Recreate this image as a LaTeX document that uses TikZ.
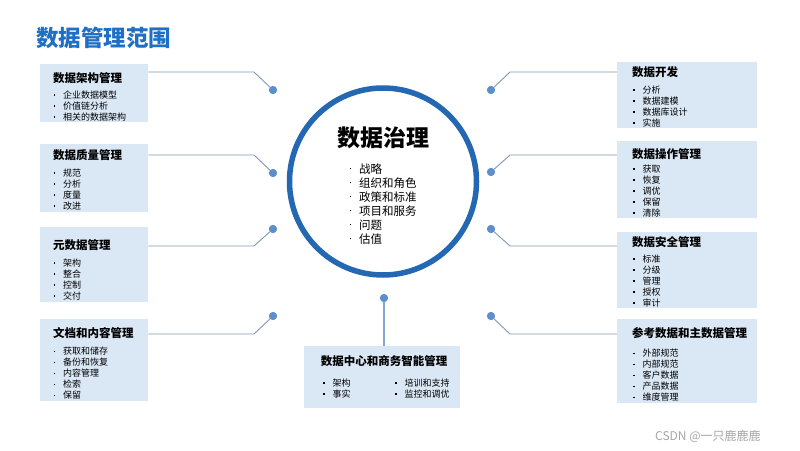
\documentclass[tikz,border=0pt]{standalone}
\usepackage{fontspec}
\setmainfont{Noto Sans CJK SC}
\definecolor{titleblue}{HTML}{1F70C4}
\definecolor{ringblue}{HTML}{2468B4}
\definecolor{boxfill}{HTML}{DAE8F6}
\definecolor{dotblue}{HTML}{5F8FCB}
\definecolor{linegrey}{HTML}{8298B2}
\definecolor{vlineblue}{HTML}{86A6D0}
\newcommand\bl{\makebox[9.5pt][l]{\raisebox{0.32em}{\rule{1.3pt}{1.3pt}}}}
\newcommand\blc{\makebox[9.5pt][l]{\raisebox{0.32em}{\rule{1.5pt}{1.5pt}}}}
\tikzset{
  box/.style={fill=boxfill, draw=none, anchor=north west, inner sep=0pt},
  btitle/.style={anchor=west, inner sep=0pt, font=\fontsize{11.5}{13}\selectfont\bfseries},
  blist/.style={anchor=west, inner sep=0pt, align=left, font=\fontsize{9}{11}\selectfont},
  conn/.style={draw=linegrey, line width=0.9pt},
  dotn/.style={circle, fill=dotblue, inner sep=0pt, minimum size=8pt},
}
\begin{document}
\begin{tikzpicture}[x=1pt,y=-1pt]
\useasboundingbox (0,0) rectangle (800,450);
\fill[white] (0,0) rectangle (800,450);

% main title
\node[anchor=west, inner sep=0pt, text=titleblue, font=\fontsize{22.5}{25}\selectfont\bfseries] (maintitle) at (36,37.5) {数据管理范围};

% central circle
\node[circle, draw=ringblue, line width=5.5pt, minimum size=187pt, inner sep=0pt] (ring) at (383,181.5) {};
\node[inner sep=0pt, font=\fontsize{23}{26}\selectfont\bfseries] (ctitle) at (383,138) {数据治理};
\node[anchor=west, inner sep=0pt, align=left, font=\fontsize{11.5}{14}\selectfont] (clist) at (349.5,203.7)
  {\blc 战略\\ \blc 组织和角色\\ \blc 政策和标准\\ \blc 项目和服务\\ \blc 问题\\ \blc 估值};

% ---------- left boxes ----------
\node[box, minimum width=108pt, minimum height=58pt] (b1) at (40,64) {};
\node[btitle] (t1) at (53,78) {数据架构管理};
\node[blist] (l1) at (53.5,106) {\bl 企业数据模型\\ \bl 价值链分析\\ \bl 相关的数据架构};

\node[box, minimum width=108pt, minimum height=68pt] (b2) at (40,144) {};
\node[btitle] (t2) at (53,155) {数据质量管理};
\node[blist] (l2) at (53.5,189.5) {\bl 规范\\ \bl 分析\\ \bl 度量\\ \bl 改进};

\node[box, minimum width=108pt, minimum height=75pt] (b3) at (40,227) {};
\node[btitle] (t3) at (53,245) {元数据管理};
\node[blist] (l3) at (53.5,279.5) {\bl 架构\\ \bl 整合\\ \bl 控制\\ \bl 交付};

\node[box, minimum width=108pt, minimum height=82pt] (b4) at (40,319) {};
\node[btitle] (t4) at (53,333) {文档和内容管理};
\node[blist] (l4) at (53.5,373.3) {\bl 获取和储存\\ \bl 备份和恢复\\ \bl 内容管理\\ \bl 检索\\ \bl 保留};

% left connectors
\node[dotn] (d1) at (273,90) {};
\node[dotn] (d2) at (273,173) {};
\node[dotn] (d3) at (273,229) {};
\node[dotn] (d4) at (273,316) {};
\coordinate (k1) at (254,72);
\coordinate (k2) at (254,155);
\coordinate (k3) at (254,246);
\coordinate (k4) at (254,334);
\draw[conn] (b1.east |- k1) -- (k1) -- (d1.center);
\draw[conn] (b2.east |- k2) -- (k2) -- (d2.center);
\draw[conn] (b3.east |- k3) -- (k3) -- (d3.center);
\draw[conn] (b4.east |- k4) -- (k4) -- (d4.center);
\foreach \d in {d1,d2,d3,d4} \node[dotn] at (\d) {};

% ---------- right boxes ----------
\node[box, minimum width=140pt, minimum height=66pt] (r1) at (617,62) {};
\node[btitle] (s1) at (632,72) {数据开发};
\node[blist] (m1) at (633,106.5) {\bl 分析\\ \bl 数据建模\\ \bl 数据库设计\\ \bl 实施};

\node[box, minimum width=140pt, minimum height=77pt] (r2) at (617,141) {};
\node[btitle] (s2) at (632,154) {数据操作管理};
\node[blist] (m2) at (633,191.2) {\bl 获取\\ \bl 恢复\\ \bl 调优\\ \bl 保留\\ \bl 清除};

\node[box, minimum width=140pt, minimum height=76pt] (r3) at (617,232) {};
\node[btitle] (s3) at (632,242) {数据安全管理};
\node[blist] (m3) at (633,281.2) {\bl 标准\\ \bl 分级\\ \bl 管理\\ \bl 授权\\ \bl 审计};

\node[box, minimum width=140pt, minimum height=84pt] (r4) at (617,319) {};
\node[btitle] (s4) at (632,333) {参考数据和主数据管理};
\node[blist] (m4) at (633,375.3) {\bl 外部规范\\ \bl 内部规范\\ \bl 客户数据\\ \bl 产品数据\\ \bl 维度管理};

% right connectors
\node[dotn] (e1) at (491,90) {};
\node[dotn] (e2) at (491,172) {};
\node[dotn] (e3) at (491,229) {};
\node[dotn] (e4) at (491,316) {};
\coordinate (j1) at (510,72);
\coordinate (j2) at (510,155);
\coordinate (j3) at (510,246);
\coordinate (j4) at (510,334);
\draw[conn] (r1.west |- j1) -- (j1) -- (e1.center);
\draw[conn] (r2.west |- j2) -- (j2) -- (e2.center);
\draw[conn] (r3.west |- j3) -- (j3) -- (e3.center);
\draw[conn] (r4.west |- j4) -- (j4) -- (e4.center);
\foreach \d in {e1,e2,e3,e4} \node[dotn] at (\d) {};

% ---------- bottom box ----------
\node[box, minimum width=156pt, minimum height=62pt] (bb) at (304,346) {};
\node[btitle, anchor=center] (bt) at (384,361) {数据中心和商务智能管理};
\node[blist] (bl1) at (323,388.5) {\bl 架构\\ \bl 事实};
\node[blist] (bl2) at (395,388.5) {\bl 培训和支持\\ \bl 监控和调优};
\node[dotn] (db) at (384,298) {};
\draw[draw=vlineblue, line width=1.3pt] (db.center) -- (db.center |- bb.north);
\node[dotn] at (db) {};

% watermark
\node[anchor=west, inner sep=0pt, text=black!35, font=\fontsize{12}{14}\selectfont] (wm) at (655,436) {CSDN @一只鹿鹿鹿};
\end{tikzpicture}
\end{document}
